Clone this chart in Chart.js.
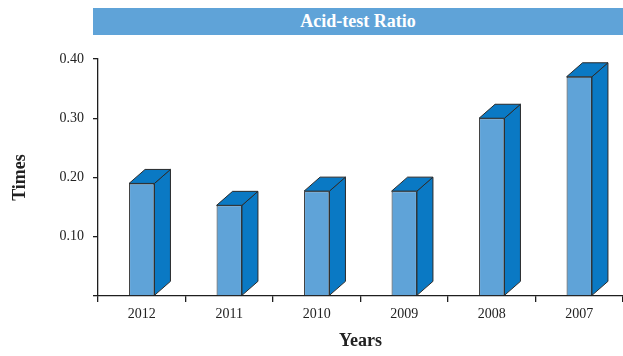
<!DOCTYPE html>
<html>
<head>
<meta charset="utf-8">
<script src="https://cdn.jsdelivr.net/npm/chart.js@4"></script>
<style>
  html, body { margin: 0; padding: 0; background: #fff; }
  #wrap { position: relative; width: 623px; height: 356px; }
  #banner {
    position: absolute; left: 93px; top: 8px; width: 530px; height: 27px;
    background: #5fa3d8; color: #fff; text-align: center;
    font: bold 18px "Liberation Serif", serif; line-height: 27px;
  }
</style>
</head>
<body>
<div id="wrap">
  <canvas id="chart"></canvas>
  <div id="banner">Acid-test Ratio</div>
</div>
<script>
// Acid-test ratio by year
const years = ['2012', '2011', '2010', '2009', '2008', '2007'];
const ratios = [0.19, 0.153, 0.177, 0.177, 0.30, 0.37];
const yTicks = [0.1, 0.2, 0.3, 0.4];

const FRONT = '#5fa3d8';
const DARK = '#0a79c4';
const EDGE = '#2a2a2a';

// draws the top and side faces of each bar so they look like boxes
const boxBars = {
    id: 'boxBars',
    afterDatasetsDraw(chart) {
        const ctx = chart.ctx;
        const dx = 16, dy = 14;
        chart.getDatasetMeta(0).data.forEach(bar => {
            const left = bar.x - bar.width / 2;
            const right = bar.x + bar.width / 2;
            const top = bar.y, base = bar.base;
            ctx.save();
            ctx.fillStyle = DARK;
            ctx.strokeStyle = EDGE;
            ctx.lineWidth = 1;
            ctx.lineJoin = 'round';
            // side
            ctx.beginPath();
            ctx.moveTo(right, top);
            ctx.lineTo(right + dx, top - dy);
            ctx.lineTo(right + dx, base - dy);
            ctx.lineTo(right, base);
            ctx.closePath();
            ctx.fill();
            ctx.stroke();
            // top
            ctx.beginPath();
            ctx.moveTo(left, top);
            ctx.lineTo(left + dx, top - dy);
            ctx.lineTo(right + dx, top - dy);
            ctx.lineTo(right, top);
            ctx.closePath();
            ctx.fill();
            ctx.stroke();
            ctx.restore();
        });
    }
};

const serif = '"Liberation Serif", serif';

new Chart(document.getElementById('chart'), {
    type: 'bar',
    data: {
        labels: years,
        datasets: [{
            data: ratios,
            backgroundColor: FRONT,
            borderColor: EDGE,
            borderWidth: 1,
            barPercentage: 0.29,
            categoryPercentage: 1
        }]
    },
    options: {
        responsive: true,
        maintainAspectRatio: false,
        animation: false,
        layout: { padding: { top: 59, left: 0, right: 0, bottom: 0 } },
        plugins: {
            legend: { display: false },
            tooltip: { enabled: false }
        },
        scales: {
            x: {
                afterFit: (s) => { s.height = 60; },
                grid: { drawOnChartArea: false, tickLength: 6, color: '#1e1e1e', lineWidth: 1.3 },
                border: { display: true, color: '#1e1e1e', width: 1.3 },
                ticks: { color: '#222', font: { family: serif, size: 14 }, padding: 4 },
                title: {
                    display: true, text: 'Years', color: '#222',
                    font: { family: serif, size: 18, weight: 'bold' },
                    padding: { top: 4, bottom: 4 }
                }
            },
            y: {
                min: 0,
                max: 0.4,
                afterFit: (s) => { s.width = 98; },
                afterBuildTicks: (s) => { s.ticks = [0].concat(yTicks).map(v => ({ value: v })); },
                grid: { drawOnChartArea: false, tickLength: 5, color: '#1e1e1e', lineWidth: 1.3 },
                border: { display: true, color: '#1e1e1e', width: 1.3 },
                ticks: {
                    color: '#222', font: { family: serif, size: 14 }, padding: 9,
                    callback: (v) => v === 0 ? '' : v.toFixed(2)
                },
                title: {
                    display: true, text: 'Times', color: '#222',
                    font: { family: serif, size: 18, weight: 'bold' },
                    padding: { top: 10, bottom: 0 }
                }
            }
        }
    },
    plugins: [boxBars]
});
</script>
</body>
</html>
